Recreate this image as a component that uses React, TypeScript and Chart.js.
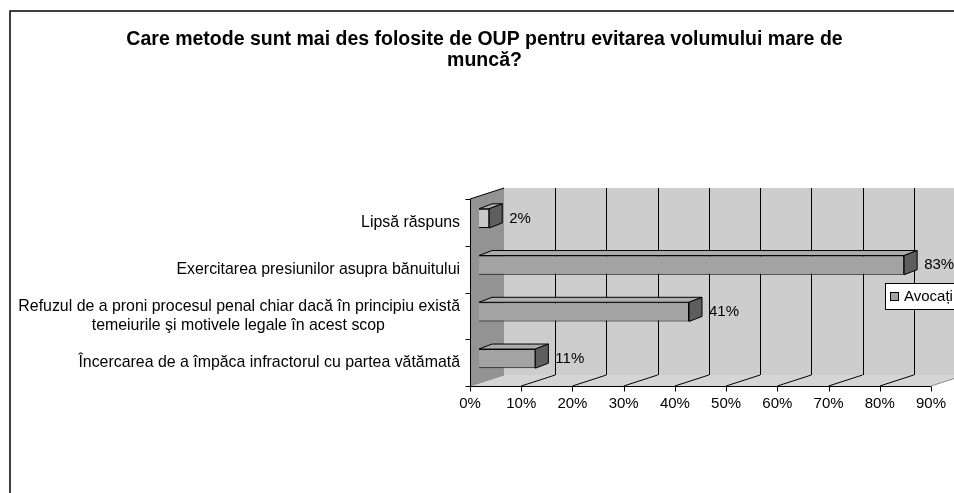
import React, { useEffect, useRef } from 'react';
import { Chart, registerables } from 'chart.js';

Chart.register(...registerables);

// ---------- data ----------
const TITLE_LINES = [
  'Care metode sunt mai des folosite de OUP pentru evitarea volumului mare de',
  'muncă?',
];
const CENTER_PAD = ' '.repeat(17);
const CATEGORIES: string[][] = [
  ['Lipsă răspuns'],
  ['Exercitarea presiunilor asupra bănuitului'],
  [
    'Refuzul de a proni procesul penal chiar dacă în principiu există',
    'temeiurile şi motivele legale în acest scop' + CENTER_PAD,
  ],
  ['Încercarea de a împăca infractorul cu partea vătămată'],
];
const SERIES_LABEL = 'Avocați';
const VALUES = [2, 83, 41, 11];
const X_MIN = 0;
const X_MAX = 90;
const X_STEP = 10;

// ---------- styles ----------
const FONT = "'Liberation Sans', Arial, sans-serif";
const BAR_FRONT = ['#c8c8c8', '#a3a3a3', '#a3a3a3', '#a3a3a3'];
const BAR_TOP = '#acacac';
const BAR_SIDE = '#5e5e5e';
const BACK_WALL = '#cdcdcd';
const SIDE_WALL = '#939393';
const FLOOR = '#d5d5d5';
const SHIFT = { x: 9, y: 4 }; // bar plane -> front plane offset
const DEPTH = { x: 34, y: -11 }; // floor / wall depth
const BAR_DEPTH = { x: 13, y: -5 };
const TITLE_CX = 484.5;
const TITLE_BASE = 45;
const TITLE_LH = 21;

const crisp = (v: number) => Math.round(v) + 0.5;

const threeDPlugin = {
  id: 'threeD',
  beforeDraw(chart: any) {
    const ctx = chart.ctx;
    ctx.save();
    ctx.fillStyle = '#ffffff';
    ctx.fillRect(0, 0, chart.width, chart.height);
    ctx.strokeStyle = '#000';
    ctx.lineWidth = 1.5;
    ctx.beginPath();
    ctx.moveTo(10, chart.height);
    ctx.lineTo(10, 11);
    ctx.lineTo(chart.width, 11);
    ctx.stroke();
    // title
    ctx.fillStyle = '#000';
    ctx.font = `bold 19.5px ${FONT}`;
    ctx.textAlign = 'center';
    ctx.textBaseline = 'alphabetic';
    TITLE_LINES.forEach((line, i) => ctx.fillText(line, TITLE_CX, TITLE_BASE + i * TITLE_LH));
    ctx.restore();
  },
  beforeDatasetsDraw(chart: any) {
    const ctx = chart.ctx;
    const xs = chart.scales.x;
    const ca = chart.chartArea;
    const fx = (v: number) => xs.getPixelForValue(v) - SHIFT.x;
    const ft = ca.top + SHIFT.y;
    const fb = ca.bottom + SHIFT.y;
    const x0 = fx(X_MIN);
    const x1 = fx(X_MAX);
    const bt = ft + DEPTH.y;
    const bb = fb + DEPTH.y;
    ctx.save();
    // back wall
    ctx.fillStyle = BACK_WALL;
    ctx.fillRect(x0 + DEPTH.x, bt, x1 - x0, bb - bt);
    // side wall
    ctx.fillStyle = SIDE_WALL;
    ctx.beginPath();
    ctx.moveTo(x0, ft);
    ctx.lineTo(x0 + DEPTH.x, bt);
    ctx.lineTo(x0 + DEPTH.x, bb);
    ctx.lineTo(x0, fb);
    ctx.closePath();
    ctx.fill();
    // floor
    ctx.fillStyle = FLOOR;
    ctx.beginPath();
    ctx.moveTo(x0, fb);
    ctx.lineTo(x1, fb);
    ctx.lineTo(x1 + DEPTH.x, bb);
    ctx.lineTo(x0 + DEPTH.x, bb);
    ctx.closePath();
    ctx.fill();
    // back gridlines
    ctx.lineWidth = 1;
    ctx.strokeStyle = '#000';
    for (let v = X_MIN + X_STEP; v <= X_MAX; v += X_STEP) {
      const gx = crisp(fx(v) + DEPTH.x);
      ctx.beginPath();
      ctx.moveTo(gx, bt);
      ctx.lineTo(gx, bb);
      ctx.stroke();
    }
    // floor diagonals
    for (let v = X_MIN; v <= X_MAX; v += X_STEP) {
      ctx.strokeStyle = v === X_MIN || v === X_MAX ? '#8a8a8a' : '#000';
      ctx.beginPath();
      ctx.moveTo(fx(v), fb);
      ctx.lineTo(fx(v) + DEPTH.x, bb);
      ctx.stroke();
    }
    // side wall top edge
    ctx.strokeStyle = '#000';
    ctx.beginPath();
    ctx.moveTo(x0, ft);
    ctx.lineTo(x0 + DEPTH.x, bt);
    ctx.stroke();
    // front value axis
    const yb = crisp(fb);
    ctx.beginPath();
    ctx.moveTo(x0, yb);
    ctx.lineTo(x1, yb);
    ctx.stroke();
    for (let v = X_MIN; v <= X_MAX; v += X_STEP) {
      const tx = crisp(fx(v));
      ctx.beginPath();
      ctx.moveTo(tx, yb);
      ctx.lineTo(tx, yb + 5);
      ctx.stroke();
    }
    // category axis
    const xa = crisp(x0);
    ctx.beginPath();
    ctx.moveTo(xa, ft);
    ctx.lineTo(xa, fb);
    ctx.stroke();
    const n = CATEGORIES.length;
    for (let i = 0; i <= n; i++) {
      const ty = crisp(ft + (i * (fb - ft)) / n);
      ctx.beginPath();
      ctx.moveTo(xa - 5, ty);
      ctx.lineTo(xa, ty);
      ctx.stroke();
    }
    ctx.restore();
  },
  afterDatasetsDraw(chart: any) {
    const ctx = chart.ctx;
    const ca = chart.chartArea;
    const meta = chart.getDatasetMeta(0);
    ctx.save();
    ctx.lineWidth = 1;
    ctx.strokeStyle = '#000';
    meta.data.forEach((bar: any, i: number) => {
      const { x, y, base, height } = bar.getProps(['x', 'y', 'base', 'height'], true);
      const top = y - height / 2;
      const bot = y + height / 2;
      ctx.fillStyle = BAR_TOP;
      ctx.beginPath();
      ctx.moveTo(base, top);
      ctx.lineTo(base + BAR_DEPTH.x, top + BAR_DEPTH.y);
      ctx.lineTo(x + BAR_DEPTH.x, top + BAR_DEPTH.y);
      ctx.lineTo(x, top);
      ctx.closePath();
      ctx.fill();
      ctx.stroke();
      ctx.fillStyle = BAR_SIDE;
      ctx.beginPath();
      ctx.moveTo(x, top);
      ctx.lineTo(x + BAR_DEPTH.x, top + BAR_DEPTH.y);
      ctx.lineTo(x + BAR_DEPTH.x, bot + BAR_DEPTH.y);
      ctx.lineTo(x, bot);
      ctx.closePath();
      ctx.fill();
      ctx.stroke();
      ctx.fillStyle = '#000';
      ctx.font = `15px ${FONT}`;
      ctx.textAlign = 'left';
      ctx.textBaseline = 'middle';
      ctx.fillText(`${VALUES[i]}%`, x + BAR_DEPTH.x + 7, y);
    });
    // legend
    const lx = ca.right - 55;
    const ly = ca.top + 88;
    ctx.fillStyle = '#fff';
    ctx.fillRect(lx, ly, 120, 26);
    ctx.strokeStyle = '#000';
    ctx.strokeRect(crisp(lx), crisp(ly), 120, 26);
    ctx.fillStyle = BAR_FRONT[1];
    ctx.fillRect(crisp(lx + 5), crisp(ly + 9), 8, 8);
    ctx.strokeRect(crisp(lx + 5), crisp(ly + 9), 8, 8);
    ctx.fillStyle = '#000';
    ctx.font = `15px ${FONT}`;
    ctx.textAlign = 'left';
    ctx.textBaseline = 'middle';
    ctx.fillText(chart.data.datasets[0].label, lx + 19, ly + 13.5);
    ctx.restore();
  },
};

export default function App() {
  const ref = useRef<HTMLCanvasElement | null>(null);
  useEffect(() => {
    if (!ref.current) return;
    const chart = new Chart(ref.current, {
      type: 'bar',
      data: {
        labels: CATEGORIES,
        datasets: [
          {
            label: SERIES_LABEL,
            data: VALUES,
            backgroundColor: BAR_FRONT,
            borderColor: '#000',
            borderWidth: 1,
            barPercentage: 0.41,
            categoryPercentage: 1,
          },
        ],
      },
      options: {
        indexAxis: 'y',
        animation: false,
        responsive: false,
        maintainAspectRatio: false,
        devicePixelRatio: 1,
        layout: { padding: { left: 9, right: 14, top: 195, bottom: 0 } },
        plugins: {
          legend: { display: false },
          tooltip: { enabled: false },
          title: { display: false },
        },
        scales: {
          x: {
            type: 'linear',
            min: X_MIN,
            max: X_MAX,
            grid: { display: false, drawTicks: false },
            border: { display: false },
            ticks: {
              stepSize: X_STEP,
              callback: (v: any) => `${v}%`,
              color: '#000',
              font: { family: FONT, size: 15 },
              padding: 13,
              labelOffset: -SHIFT.x,
              maxRotation: 0,
              autoSkip: false,
            },
            afterFit: (s: any) => {
              s.height = 111;
              s.paddingLeft = 0;
              s.paddingRight = 0;
            },
          },
          y: {
            type: 'category',
            offset: true,
            grid: { display: false, drawTicks: false },
            border: { display: false },
            ticks: {
              color: '#000',
              font: { family: FONT, size: 15.9, lineHeight: 1.18 },
              padding: 19,
              labelOffset: SHIFT.y,
              autoSkip: false,
            },
            afterFit: (s: any) => {
              s.width = 470;
              s.paddingTop = 0;
              s.paddingBottom = 0;
            },
          },
        },
      },
      plugins: [threeDPlugin],
    });
    return () => chart.destroy();
  }, []);
  return (
    <div style={{ position: 'fixed', left: 0, top: 0, width: 954, height: 493 }}>
      <canvas ref={ref} width={954} height={493} style={{ display: 'block' }} />
    </div>
  );
}
